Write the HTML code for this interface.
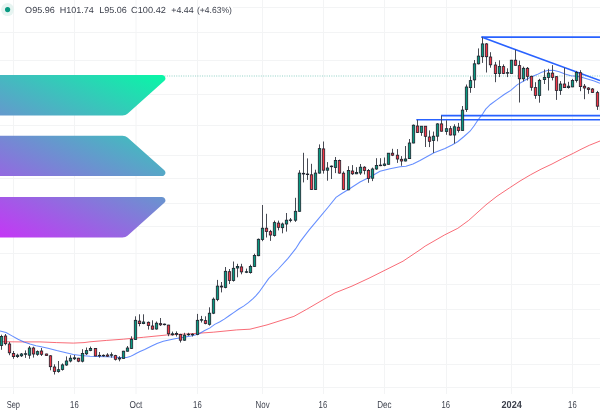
<!DOCTYPE html>
<html><head><meta charset="utf-8"><style>
html,body{margin:0;padding:0;background:#fff;}
body{width:600px;height:414px;overflow:hidden;position:relative;}
</style></head><body>
<svg width="600" height="414" viewBox="0 0 600 414" style="position:absolute;left:0;top:0"><defs>
<linearGradient id="sg" x1="360.88" y1="-37.46" x2="141.21" y2="383.29" gradientUnits="userSpaceOnUse">
<stop offset="0" stop-color="#00FFA3"/><stop offset="1" stop-color="#DC1FFF"/>
</linearGradient>
</defs><g stroke="#f3f4f5" stroke-width="1"><line x1="233" y1="7.5" x2="600" y2="7.5"/><line x1="0" y1="32.5" x2="600" y2="32.5"/><line x1="0" y1="60.5" x2="600" y2="60.5"/><line x1="0" y1="94.5" x2="600" y2="94.5"/><line x1="0" y1="125.5" x2="600" y2="125.5"/><line x1="0" y1="155.5" x2="600" y2="155.5"/><line x1="0" y1="178.5" x2="600" y2="178.5"/><line x1="0" y1="203.5" x2="600" y2="203.5"/><line x1="0" y1="226.5" x2="600" y2="226.5"/><line x1="0" y1="253.5" x2="600" y2="253.5"/><line x1="0" y1="284.5" x2="600" y2="284.5"/><line x1="0" y1="309.5" x2="600" y2="309.5"/><line x1="0" y1="338.5" x2="600" y2="338.5"/><line x1="0" y1="364.5" x2="600" y2="364.5"/><line x1="0" y1="387.5" x2="600" y2="387.5"/><line x1="13.5" y1="0" x2="13.5" y2="394"/><line x1="74.5" y1="0" x2="74.5" y2="394"/><line x1="136" y1="0" x2="136" y2="394"/><line x1="197.5" y1="0" x2="197.5" y2="394"/><line x1="262.5" y1="0" x2="262.5" y2="394"/><line x1="323.5" y1="0" x2="323.5" y2="394"/><line x1="384.5" y1="0" x2="384.5" y2="394"/><line x1="446.5" y1="0" x2="446.5" y2="394"/><line x1="511.5" y1="0" x2="511.5" y2="394"/><line x1="572.5" y1="0" x2="572.5" y2="394"/></g><line x1="0" y1="76" x2="600" y2="76" stroke="#089981" stroke-opacity="0.45" stroke-width="1" stroke-dasharray="1 1.35"/><g transform="translate(-66.4 75.0) scale(0.583 0.5215)" fill="url(#sg)"><path d="M64.6 237.9c2.4-2.4 5.7-3.8 9.2-3.8h317.4c5.8 0 8.7 7 4.6 11.1l-62.7 62.7c-2.4 2.4-5.7 3.8-9.2 3.8H6.5c-5.8 0-8.7-7-4.6-11.1l62.7-62.7z"/><path d="M64.6 3.8C67.1 1.4 70.4 0 73.8 0h317.4c5.8 0 8.7 7 4.6 11.1l-62.7 62.7c-2.4 2.4-5.7 3.8-9.2 3.8H6.5c-5.8 0-8.7-7-4.6-11.1L64.6 3.8z"/><path d="M333.1 120.1c-2.4-2.4-5.7-3.8-9.2-3.8H6.5c-5.8 0-8.7 7-4.6 11.1l62.7 62.7c2.4 2.4 5.7 3.8 9.2 3.8h317.4c5.8 0 8.7-7 4.6-11.1l-62.7-62.7z"/></g><polyline points="0.0,341.7 20.0,341.9 40.0,341.9 56.7,342.6 73.3,343.1 84.0,342.6 90.0,341.8 106.7,340.4 123.3,339.2 143.3,337.3 166.7,335.0 190.0,333.8 213.3,332.2 236.7,329.9 250.0,329.2 267.0,324.9 293.9,316.4 306.7,309.3 323.7,299.4 335.0,292.9 352.0,286.1 369.0,278.2 386.0,269.7 403.0,261.2 420.0,249.8 425.2,246.1 444.8,234.8 457.8,228.3 468.7,220.4 486.0,204.8 497.0,196.2 509.3,188.0 520.0,181.0 530.7,174.7 541.0,169.2 552.0,164.0 562.5,158.5 573.3,153.3 581.0,149.3 589.3,145.3 600.0,141.0" fill="none" stroke="#f7525f" stroke-opacity="0.85" stroke-width="1"/><polyline points="0.0,331.0 6.0,332.5 12.0,335.9 18.0,339.3 24.0,341.9 30.0,344.1 36.0,345.8 40.0,346.4 48.0,348.3 56.7,350.6 65.0,352.5 73.3,354.5 81.0,355.6 90.0,356.2 98.0,356.5 106.7,356.7 113.0,357.0 120.0,357.4 126.7,357.4 130.0,356.6 133.3,355.0 136.5,353.3 140.0,351.5 144.7,349.5 151.7,346.0 157.0,343.5 163.3,341.3 169.0,339.9 175.0,338.8 180.7,337.7 186.7,336.7 191.0,335.9 196.0,334.8 200.0,333.2 204.2,330.8 210.0,327.9 214.7,324.4 219.5,322.0 224.3,319.1 229.1,315.8 234.0,312.4 238.8,309.0 243.6,306.1 248.4,302.7 253.3,298.4 256.0,295.6 259.0,292.2 268.6,278.6 278.3,269.0 288.0,258.4 295.7,248.7 300.0,241.9 309.0,230.2 318.6,218.6 328.3,207.0 336.0,197.4 341.8,193.5 349.6,188.7 360.0,182.0 370.0,177.0 380.0,171.2 390.0,168.8 400.0,166.8 406.0,166.3 413.0,164.0 420.0,160.5 434.0,152.7 445.0,148.5 452.0,145.0 458.0,141.5 464.0,136.5 470.0,131.2 474.0,126.0 477.8,120.2 482.6,114.0 485.7,109.2 490.4,104.5 496.7,99.8 504.5,94.3 510.8,90.4 517.1,84.9 525.0,80.2 530.0,77.5 537.0,74.6 541.7,72.3 547.5,70.5 553.3,70.3 559.2,71.7 565.0,74.0 570.8,75.8 576.7,76.3 582.5,77.5 588.3,79.3 594.2,81.0 600.0,83.3" fill="none" stroke="#2962ff" stroke-opacity="0.72" stroke-width="1.05"/><g stroke="#2962ff" stroke-width="1.6" fill="none"><line x1="481.5" y1="37.1" x2="600" y2="37.1"/><line x1="481.5" y1="37.1" x2="600" y2="80.6"/><line x1="441" y1="115.6" x2="600" y2="115.6"/><line x1="416.3" y1="119.7" x2="600" y2="119.7"/></g><g stroke="#474a53" stroke-width="1"><line x1="1.50" y1="334.7" x2="1.50" y2="349.8"/><line x1="5.50" y1="334.0" x2="5.50" y2="345.3"/><line x1="9.50" y1="341.9" x2="9.50" y2="355.2"/><line x1="13.50" y1="351.0" x2="13.50" y2="358.8"/><line x1="17.50" y1="353.7" x2="17.50" y2="357.9"/><line x1="21.50" y1="353.0" x2="21.50" y2="357.0"/><line x1="25.50" y1="350.4" x2="25.50" y2="357.9"/><line x1="29.50" y1="346.0" x2="29.50" y2="358.8"/><line x1="33.50" y1="346.7" x2="33.50" y2="357.6"/><line x1="37.50" y1="350.4" x2="37.50" y2="355.8"/><line x1="41.50" y1="348.0" x2="41.50" y2="356.0"/><line x1="46.50" y1="353.7" x2="46.50" y2="355.8"/><line x1="50.50" y1="355.2" x2="50.50" y2="370.3"/><line x1="54.50" y1="364.3" x2="54.50" y2="374.5"/><line x1="58.50" y1="361.0" x2="58.50" y2="372.7"/><line x1="62.50" y1="363.4" x2="62.50" y2="370.6"/><line x1="66.50" y1="356.4" x2="66.50" y2="365.8"/><line x1="70.50" y1="355.2" x2="70.50" y2="362.4"/><line x1="74.50" y1="355.0" x2="74.50" y2="360.0"/><line x1="78.50" y1="357.8" x2="78.50" y2="362.2"/><line x1="82.50" y1="349.2" x2="82.50" y2="362.4"/><line x1="86.50" y1="347.5" x2="86.50" y2="355.0"/><line x1="90.50" y1="346.6" x2="90.50" y2="351.2"/><line x1="95.50" y1="348.0" x2="95.50" y2="356.2"/><line x1="99.50" y1="352.0" x2="99.50" y2="357.7"/><line x1="103.50" y1="354.4" x2="103.50" y2="356.8"/><line x1="107.50" y1="353.2" x2="107.50" y2="356.8"/><line x1="111.50" y1="352.4" x2="111.50" y2="357.7"/><line x1="115.50" y1="354.8" x2="115.50" y2="360.5"/><line x1="119.50" y1="356.2" x2="119.50" y2="361.3"/><line x1="123.50" y1="350.8" x2="123.50" y2="358.6"/><line x1="127.50" y1="346.0" x2="127.50" y2="351.6"/><line x1="131.50" y1="336.3" x2="131.50" y2="349.0"/><line x1="135.50" y1="316.3" x2="135.50" y2="339.9"/><line x1="139.50" y1="314.3" x2="139.50" y2="326.3"/><line x1="143.50" y1="314.3" x2="143.50" y2="324.2"/><line x1="148.50" y1="321.5" x2="148.50" y2="329.6"/><line x1="152.50" y1="320.3" x2="152.50" y2="329.6"/><line x1="156.50" y1="321.5" x2="156.50" y2="329.6"/><line x1="160.50" y1="318.0" x2="160.50" y2="326.0"/><line x1="164.50" y1="323.6" x2="164.50" y2="325.4"/><line x1="168.50" y1="324.8" x2="168.50" y2="336.2"/><line x1="172.50" y1="331.6" x2="172.50" y2="335.6"/><line x1="176.50" y1="331.4" x2="176.50" y2="336.5"/><line x1="180.50" y1="333.8" x2="180.50" y2="342.5"/><line x1="184.50" y1="332.8" x2="184.50" y2="340.8"/><line x1="188.50" y1="332.8" x2="188.50" y2="335.8"/><line x1="192.50" y1="333.2" x2="192.50" y2="336.5"/><line x1="197.50" y1="313.9" x2="197.50" y2="335.2"/><line x1="201.50" y1="315.9" x2="201.50" y2="322.5"/><line x1="205.50" y1="316.3" x2="205.50" y2="324.3"/><line x1="209.50" y1="307.3" x2="209.50" y2="325.6"/><line x1="213.50" y1="297.5" x2="213.50" y2="314.1"/><line x1="217.50" y1="279.9" x2="217.50" y2="301.2"/><line x1="221.50" y1="282.0" x2="221.50" y2="292.4"/><line x1="225.50" y1="267.0" x2="225.50" y2="288.3"/><line x1="229.50" y1="269.0" x2="229.50" y2="284.0"/><line x1="233.50" y1="261.5" x2="233.50" y2="281.6"/><line x1="237.50" y1="263.8" x2="237.50" y2="277.3"/><line x1="241.50" y1="263.8" x2="241.50" y2="274.3"/><line x1="246.50" y1="268.6" x2="246.50" y2="273.1"/><line x1="250.50" y1="264.7" x2="250.50" y2="273.6"/><line x1="254.50" y1="253.7" x2="254.50" y2="266.9"/><line x1="258.50" y1="238.5" x2="258.50" y2="256.2"/><line x1="262.50" y1="205.0" x2="262.50" y2="241.2"/><line x1="266.50" y1="213.8" x2="266.50" y2="237.5"/><line x1="270.50" y1="229.9" x2="270.50" y2="240.9"/><line x1="274.50" y1="220.6" x2="274.50" y2="236.6"/><line x1="278.50" y1="220.6" x2="278.50" y2="230.4"/><line x1="282.50" y1="222.6" x2="282.50" y2="233.3"/><line x1="286.50" y1="213.0" x2="286.50" y2="231.6"/><line x1="290.50" y1="218.0" x2="290.50" y2="222.3"/><line x1="295.50" y1="197.8" x2="295.50" y2="221.9"/><line x1="299.50" y1="170.2" x2="299.50" y2="211.8"/><line x1="303.50" y1="152.8" x2="303.50" y2="182.4"/><line x1="307.50" y1="158.4" x2="307.50" y2="179.9"/><line x1="311.50" y1="163.8" x2="311.50" y2="189.8"/><line x1="315.50" y1="169.7" x2="315.50" y2="190.0"/><line x1="319.50" y1="144.4" x2="319.50" y2="173.6"/><line x1="323.50" y1="141.5" x2="323.50" y2="173.6"/><line x1="327.50" y1="162.1" x2="327.50" y2="180.7"/><line x1="331.50" y1="165.5" x2="331.50" y2="179.0"/><line x1="335.50" y1="157.0" x2="335.50" y2="173.1"/><line x1="339.50" y1="159.6" x2="339.50" y2="173.6"/><line x1="343.50" y1="171.4" x2="343.50" y2="190.0"/><line x1="348.50" y1="166.2" x2="348.50" y2="190.2"/><line x1="352.50" y1="165.1" x2="352.50" y2="174.9"/><line x1="356.50" y1="167.2" x2="356.50" y2="174.1"/><line x1="360.50" y1="164.0" x2="360.50" y2="174.9"/><line x1="364.50" y1="166.2" x2="364.50" y2="174.4"/><line x1="368.50" y1="169.0" x2="368.50" y2="182.8"/><line x1="372.50" y1="167.6" x2="372.50" y2="181.1"/><line x1="376.50" y1="158.2" x2="376.50" y2="169.8"/><line x1="380.50" y1="158.2" x2="380.50" y2="166.2"/><line x1="384.50" y1="157.5" x2="384.50" y2="166.2"/><line x1="388.50" y1="153.1" x2="388.50" y2="164.6"/><line x1="392.50" y1="148.8" x2="392.50" y2="156.1"/><line x1="397.50" y1="149.1" x2="397.50" y2="162.9"/><line x1="401.50" y1="156.1" x2="401.50" y2="165.8"/><line x1="405.50" y1="146.0" x2="405.50" y2="161.4"/><line x1="409.50" y1="139.0" x2="409.50" y2="158.8"/><line x1="413.50" y1="124.5" x2="413.50" y2="143.3"/><line x1="417.50" y1="119.9" x2="417.50" y2="132.9"/><line x1="421.50" y1="126.0" x2="421.50" y2="135.8"/><line x1="425.50" y1="126.0" x2="425.50" y2="147.0"/><line x1="429.50" y1="130.4" x2="429.50" y2="147.1"/><line x1="433.50" y1="131.6" x2="433.50" y2="152.9"/><line x1="437.50" y1="123.2" x2="437.50" y2="141.3"/><line x1="441.50" y1="115.7" x2="441.50" y2="131.6"/><line x1="446.50" y1="120.3" x2="446.50" y2="134.8"/><line x1="450.50" y1="126.0" x2="450.50" y2="135.5"/><line x1="454.50" y1="124.3" x2="454.50" y2="143.5"/><line x1="458.50" y1="122.9" x2="458.50" y2="132.6"/><line x1="462.50" y1="106.0" x2="462.50" y2="130.6"/><line x1="466.50" y1="84.5" x2="466.50" y2="111.9"/><line x1="470.50" y1="76.4" x2="470.50" y2="92.8"/><line x1="474.50" y1="60.0" x2="474.50" y2="88.0"/><line x1="478.50" y1="48.4" x2="478.50" y2="64.4"/><line x1="482.50" y1="37.3" x2="482.50" y2="62.9"/><line x1="486.50" y1="43.1" x2="486.50" y2="72.5"/><line x1="490.50" y1="52.2" x2="490.50" y2="67.7"/><line x1="495.50" y1="61.9" x2="495.50" y2="82.2"/><line x1="499.50" y1="60.3" x2="499.50" y2="77.1"/><line x1="503.50" y1="64.4" x2="503.50" y2="74.1"/><line x1="507.50" y1="68.3" x2="507.50" y2="77.1"/><line x1="511.50" y1="59.9" x2="511.50" y2="73.6"/><line x1="515.50" y1="49.7" x2="515.50" y2="65.6"/><line x1="519.50" y1="60.6" x2="519.50" y2="102.5"/><line x1="523.50" y1="66.6" x2="523.50" y2="81.4"/><line x1="527.50" y1="67.0" x2="527.50" y2="80.5"/><line x1="531.50" y1="75.8" x2="531.50" y2="90.7"/><line x1="535.50" y1="82.2" x2="535.50" y2="98.8"/><line x1="539.50" y1="78.8" x2="539.50" y2="102.7"/><line x1="544.50" y1="69.5" x2="544.50" y2="84.0"/><line x1="548.50" y1="68.8" x2="548.50" y2="90.5"/><line x1="552.50" y1="65.1" x2="552.50" y2="80.4"/><line x1="556.50" y1="76.0" x2="556.50" y2="99.9"/><line x1="560.50" y1="81.1" x2="560.50" y2="94.9"/><line x1="564.50" y1="67.8" x2="564.50" y2="88.0"/><line x1="568.50" y1="81.8" x2="568.50" y2="88.6"/><line x1="572.50" y1="78.9" x2="572.50" y2="87.2"/><line x1="576.50" y1="70.9" x2="576.50" y2="82.5"/><line x1="580.50" y1="70.2" x2="580.50" y2="91.2"/><line x1="584.50" y1="84.0" x2="584.50" y2="99.2"/><line x1="588.50" y1="87.2" x2="588.50" y2="93.8"/><line x1="592.50" y1="88.0" x2="592.50" y2="92.7"/><line x1="597.50" y1="90.9" x2="597.50" y2="109.9"/><line x1="601.50" y1="105.0" x2="601.50" y2="112.0"/></g><g stroke="#1e222d" stroke-width="0.8"><rect x="0.30" y="336.5" width="2.4" height="9.00" fill="#089981"/><rect x="4.30" y="336.0" width="2.4" height="7.70" fill="#f23645"/><rect x="8.30" y="344.0" width="2.4" height="8.80" fill="#f23645"/><rect x="12.30" y="353.4" width="2.4" height="3.20" fill="#f23645"/><rect x="16.30" y="355.2" width="2.4" height="1.40" fill="#089981"/><rect x="20.30" y="354.0" width="2.4" height="1.80" fill="#089981"/><rect x="24.30" y="353.7" width="2.4" height="0.60" fill="#089981"/><rect x="28.30" y="348.0" width="2.4" height="7.20" fill="#089981"/><rect x="32.30" y="348.0" width="2.4" height="6.00" fill="#f23645"/><rect x="36.30" y="351.6" width="2.4" height="2.70" fill="#089981"/><rect x="40.30" y="351.0" width="2.4" height="3.30" fill="#f23645"/><rect x="45.30" y="354.0" width="2.4" height="1.40" fill="#f23645"/><rect x="49.30" y="355.8" width="2.4" height="10.90" fill="#f23645"/><rect x="53.30" y="367.0" width="2.4" height="4.50" fill="#f23645"/><rect x="57.30" y="369.7" width="2.4" height="1.80" fill="#089981"/><rect x="61.30" y="364.9" width="2.4" height="4.50" fill="#089981"/><rect x="65.30" y="361.0" width="2.4" height="4.00" fill="#089981"/><rect x="69.30" y="358.2" width="2.4" height="2.80" fill="#089981"/><rect x="73.30" y="357.8" width="2.4" height="1.00" fill="#089981"/><rect x="77.30" y="358.2" width="2.4" height="3.00" fill="#f23645"/><rect x="81.30" y="353.4" width="2.4" height="7.80" fill="#089981"/><rect x="85.30" y="350.6" width="2.4" height="3.20" fill="#089981"/><rect x="89.30" y="348.4" width="2.4" height="2.00" fill="#089981"/><rect x="94.30" y="348.4" width="2.4" height="7.60" fill="#f23645"/><rect x="98.30" y="355.3" width="2.4" height="0.60" fill="#089981"/><rect x="102.30" y="355.3" width="2.4" height="0.60" fill="#089981"/><rect x="106.30" y="355.0" width="2.4" height="1.20" fill="#f23645"/><rect x="110.30" y="354.7" width="2.4" height="0.60" fill="#089981"/><rect x="114.30" y="355.6" width="2.4" height="3.70" fill="#f23645"/><rect x="118.30" y="358.0" width="2.4" height="1.00" fill="#089981"/><rect x="122.30" y="351.2" width="2.4" height="7.20" fill="#089981"/><rect x="126.30" y="348.0" width="2.4" height="3.20" fill="#089981"/><rect x="130.30" y="339.3" width="2.4" height="9.10" fill="#089981"/><rect x="134.30" y="320.3" width="2.4" height="19.30" fill="#089981"/><rect x="138.30" y="321.1" width="2.4" height="2.50" fill="#f23645"/><rect x="142.30" y="322.0" width="2.4" height="1.60" fill="#089981"/><rect x="147.30" y="322.3" width="2.4" height="3.30" fill="#f23645"/><rect x="151.30" y="326.0" width="2.4" height="3.20" fill="#f23645"/><rect x="155.30" y="323.2" width="2.4" height="5.80" fill="#089981"/><rect x="159.30" y="323.6" width="2.4" height="1.20" fill="#f23645"/><rect x="163.30" y="324.1" width="2.4" height="0.60" fill="#089981"/><rect x="167.30" y="325.1" width="2.4" height="8.70" fill="#f23645"/><rect x="171.30" y="333.8" width="2.4" height="1.00" fill="#089981"/><rect x="175.30" y="333.4" width="2.4" height="0.90" fill="#089981"/><rect x="179.30" y="334.5" width="2.4" height="5.70" fill="#f23645"/><rect x="183.30" y="335.2" width="2.4" height="5.00" fill="#089981"/><rect x="187.30" y="334.2" width="2.4" height="0.60" fill="#089981"/><rect x="191.30" y="334.2" width="2.4" height="0.60" fill="#089981"/><rect x="196.30" y="320.3" width="2.4" height="14.20" fill="#089981"/><rect x="200.30" y="319.6" width="2.4" height="0.60" fill="#089981"/><rect x="204.30" y="320.6" width="2.4" height="2.90" fill="#f23645"/><rect x="208.30" y="313.2" width="2.4" height="11.10" fill="#089981"/><rect x="212.30" y="299.2" width="2.4" height="14.00" fill="#089981"/><rect x="216.30" y="286.1" width="2.4" height="13.30" fill="#089981"/><rect x="220.30" y="286.1" width="2.4" height="0.90" fill="#f23645"/><rect x="224.30" y="271.3" width="2.4" height="16.10" fill="#089981"/><rect x="228.30" y="271.7" width="2.4" height="8.70" fill="#f23645"/><rect x="232.30" y="268.3" width="2.4" height="12.10" fill="#089981"/><rect x="236.30" y="266.4" width="2.4" height="1.60" fill="#089981"/><rect x="240.30" y="266.9" width="2.4" height="5.00" fill="#f23645"/><rect x="245.30" y="271.7" width="2.4" height="0.60" fill="#089981"/><rect x="249.30" y="266.4" width="2.4" height="6.20" fill="#089981"/><rect x="253.30" y="255.4" width="2.4" height="11.00" fill="#089981"/><rect x="257.30" y="239.3" width="2.4" height="16.40" fill="#089981"/><rect x="261.30" y="228.2" width="2.4" height="11.30" fill="#089981"/><rect x="265.30" y="228.2" width="2.4" height="3.40" fill="#f23645"/><rect x="269.30" y="231.6" width="2.4" height="3.40" fill="#f23645"/><rect x="273.30" y="222.6" width="2.4" height="12.90" fill="#089981"/><rect x="277.30" y="223.1" width="2.4" height="4.20" fill="#f23645"/><rect x="281.30" y="224.0" width="2.4" height="3.70" fill="#089981"/><rect x="285.30" y="220.2" width="2.4" height="3.80" fill="#089981"/><rect x="289.30" y="219.9" width="2.4" height="0.60" fill="#089981"/><rect x="294.30" y="211.3" width="2.4" height="8.90" fill="#089981"/><rect x="298.30" y="173.1" width="2.4" height="38.20" fill="#089981"/><rect x="302.30" y="173.3" width="2.4" height="0.70" fill="#f23645"/><rect x="306.30" y="174.0" width="2.4" height="0.60" fill="#089981"/><rect x="310.30" y="174.8" width="2.4" height="14.70" fill="#f23645"/><rect x="314.30" y="173.1" width="2.4" height="16.40" fill="#089981"/><rect x="318.30" y="148.6" width="2.4" height="24.50" fill="#089981"/><rect x="322.30" y="148.9" width="2.4" height="21.30" fill="#f23645"/><rect x="326.30" y="168.0" width="2.4" height="2.20" fill="#089981"/><rect x="330.30" y="166.1" width="2.4" height="0.60" fill="#089981"/><rect x="334.30" y="160.4" width="2.4" height="7.10" fill="#089981"/><rect x="338.30" y="160.4" width="2.4" height="12.70" fill="#f23645"/><rect x="342.30" y="173.2" width="2.4" height="16.10" fill="#f23645"/><rect x="347.30" y="170.5" width="2.4" height="19.30" fill="#089981"/><rect x="351.30" y="171.0" width="2.4" height="2.80" fill="#f23645"/><rect x="355.30" y="172.4" width="2.4" height="1.40" fill="#089981"/><rect x="359.30" y="167.2" width="2.4" height="5.80" fill="#089981"/><rect x="363.30" y="167.2" width="2.4" height="3.30" fill="#f23645"/><rect x="367.30" y="170.5" width="2.4" height="8.00" fill="#f23645"/><rect x="371.30" y="169.0" width="2.4" height="9.20" fill="#089981"/><rect x="375.30" y="165.4" width="2.4" height="3.60" fill="#089981"/><rect x="379.30" y="165.1" width="2.4" height="0.60" fill="#089981"/><rect x="383.30" y="164.0" width="2.4" height="1.40" fill="#089981"/><rect x="387.30" y="153.2" width="2.4" height="11.10" fill="#089981"/><rect x="391.30" y="153.2" width="2.4" height="2.00" fill="#f23645"/><rect x="396.30" y="155.2" width="2.4" height="3.80" fill="#f23645"/><rect x="400.30" y="159.3" width="2.4" height="1.70" fill="#f23645"/><rect x="404.30" y="159.0" width="2.4" height="2.00" fill="#089981"/><rect x="408.30" y="143.0" width="2.4" height="15.60" fill="#089981"/><rect x="412.30" y="125.2" width="2.4" height="17.80" fill="#089981"/><rect x="416.30" y="126.0" width="2.4" height="6.50" fill="#f23645"/><rect x="420.30" y="126.2" width="2.4" height="6.30" fill="#089981"/><rect x="424.30" y="126.2" width="2.4" height="10.10" fill="#f23645"/><rect x="428.30" y="137.0" width="2.4" height="4.30" fill="#f23645"/><rect x="432.30" y="136.2" width="2.4" height="4.40" fill="#089981"/><rect x="436.30" y="123.9" width="2.4" height="12.30" fill="#089981"/><rect x="440.30" y="123.9" width="2.4" height="7.30" fill="#f23645"/><rect x="445.30" y="128.7" width="2.4" height="2.90" fill="#089981"/><rect x="449.30" y="128.7" width="2.4" height="6.30" fill="#f23645"/><rect x="453.30" y="126.8" width="2.4" height="8.20" fill="#089981"/><rect x="457.30" y="127.2" width="2.4" height="3.20" fill="#f23645"/><rect x="461.30" y="110.1" width="2.4" height="20.30" fill="#089981"/><rect x="465.30" y="87.0" width="2.4" height="22.50" fill="#089981"/><rect x="469.30" y="80.6" width="2.4" height="7.00" fill="#089981"/><rect x="473.30" y="63.8" width="2.4" height="16.10" fill="#089981"/><rect x="477.30" y="56.1" width="2.4" height="7.70" fill="#089981"/><rect x="481.30" y="43.9" width="2.4" height="12.80" fill="#089981"/><rect x="485.30" y="43.9" width="2.4" height="12.80" fill="#f23645"/><rect x="489.30" y="57.0" width="2.4" height="7.80" fill="#f23645"/><rect x="494.30" y="65.0" width="2.4" height="8.60" fill="#f23645"/><rect x="498.30" y="66.5" width="2.4" height="6.90" fill="#089981"/><rect x="502.30" y="66.6" width="2.4" height="6.80" fill="#f23645"/><rect x="506.30" y="72.6" width="2.4" height="0.60" fill="#089981"/><rect x="510.30" y="60.2" width="2.4" height="13.20" fill="#089981"/><rect x="514.30" y="60.2" width="2.4" height="5.10" fill="#f23645"/><rect x="518.30" y="65.6" width="2.4" height="13.20" fill="#f23645"/><rect x="522.30" y="68.3" width="2.4" height="10.50" fill="#089981"/><rect x="526.30" y="68.3" width="2.4" height="8.00" fill="#f23645"/><rect x="530.30" y="76.3" width="2.4" height="11.00" fill="#f23645"/><rect x="534.30" y="87.6" width="2.4" height="7.80" fill="#f23645"/><rect x="538.30" y="80.3" width="2.4" height="15.10" fill="#089981"/><rect x="543.30" y="77.5" width="2.4" height="2.10" fill="#089981"/><rect x="547.30" y="73.1" width="2.4" height="4.40" fill="#089981"/><rect x="551.30" y="73.1" width="2.4" height="4.40" fill="#f23645"/><rect x="555.30" y="76.7" width="2.4" height="13.80" fill="#f23645"/><rect x="559.30" y="84.0" width="2.4" height="6.50" fill="#089981"/><rect x="563.30" y="84.0" width="2.4" height="3.60" fill="#f23645"/><rect x="567.30" y="86.2" width="2.4" height="1.40" fill="#089981"/><rect x="571.30" y="80.4" width="2.4" height="6.50" fill="#089981"/><rect x="575.30" y="72.4" width="2.4" height="8.00" fill="#089981"/><rect x="579.30" y="72.7" width="2.4" height="13.90" fill="#f23645"/><rect x="583.30" y="86.2" width="2.4" height="1.80" fill="#f23645"/><rect x="587.30" y="88.0" width="2.4" height="1.50" fill="#f23645"/><rect x="591.30" y="89.0" width="2.4" height="3.40" fill="#f23645"/><rect x="596.30" y="92.6" width="2.4" height="13.60" fill="#f23645"/><rect x="600.30" y="106.0" width="2.4" height="4.00" fill="#f23645"/></g></svg><svg width="600" height="414" viewBox="0 0 600 414" style="position:absolute;left:0;top:0;will-change:transform"><circle cx="7.6" cy="9.6" r="6.5" fill="#e6f4f1"/><circle cx="7.6" cy="9.6" r="2.6" fill="#089981"/><text x="25.10" y="13.1" font-family="Liberation Sans, sans-serif" text-rendering="geometricPrecision" font-size="8.8" fill="#3b3f4b" textLength="29.80" lengthAdjust="spacingAndGlyphs">O95.96</text><text x="59.70" y="13.1" font-family="Liberation Sans, sans-serif" text-rendering="geometricPrecision" font-size="8.8" fill="#3b3f4b" textLength="34.10" lengthAdjust="spacingAndGlyphs">H101.74</text><text x="99.20" y="13.1" font-family="Liberation Sans, sans-serif" text-rendering="geometricPrecision" font-size="8.8" fill="#3b3f4b" textLength="27.60" lengthAdjust="spacingAndGlyphs">L95.06</text><text x="131.10" y="13.1" font-family="Liberation Sans, sans-serif" text-rendering="geometricPrecision" font-size="8.8" fill="#3b3f4b" textLength="34.80" lengthAdjust="spacingAndGlyphs">C100.42</text><text x="171.20" y="13.1" font-family="Liberation Sans, sans-serif" text-rendering="geometricPrecision" font-size="8.8" fill="#3b3f4b" textLength="22.50" lengthAdjust="spacingAndGlyphs">+4.44</text><text x="197.00" y="13.1" font-family="Liberation Sans, sans-serif" text-rendering="geometricPrecision" font-size="8.8" fill="#3b3f4b" textLength="34.90" lengthAdjust="spacingAndGlyphs">(+4.63%)</text><text x="6.65" y="407.85" font-family="Liberation Sans, sans-serif" text-rendering="geometricPrecision" font-size="10.1" fill="#3b3f4b" textLength="13.30" lengthAdjust="spacingAndGlyphs">Sep</text><text x="70.12" y="407.85" font-family="Liberation Sans, sans-serif" text-rendering="geometricPrecision" font-size="10.1" fill="#3b3f4b" textLength="8.55" lengthAdjust="spacingAndGlyphs">16</text><text x="129.50" y="407.85" font-family="Liberation Sans, sans-serif" text-rendering="geometricPrecision" font-size="10.1" fill="#3b3f4b" textLength="12.80" lengthAdjust="spacingAndGlyphs">Oct</text><text x="193.12" y="407.85" font-family="Liberation Sans, sans-serif" text-rendering="geometricPrecision" font-size="10.1" fill="#3b3f4b" textLength="8.55" lengthAdjust="spacingAndGlyphs">16</text><text x="255.57" y="407.85" font-family="Liberation Sans, sans-serif" text-rendering="geometricPrecision" font-size="10.1" fill="#3b3f4b" textLength="14.05" lengthAdjust="spacingAndGlyphs">Nov</text><text x="318.62" y="407.85" font-family="Liberation Sans, sans-serif" text-rendering="geometricPrecision" font-size="10.1" fill="#3b3f4b" textLength="8.55" lengthAdjust="spacingAndGlyphs">16</text><text x="377.25" y="407.85" font-family="Liberation Sans, sans-serif" text-rendering="geometricPrecision" font-size="10.1" fill="#3b3f4b" textLength="14.30" lengthAdjust="spacingAndGlyphs">Dec</text><text x="441.53" y="407.85" font-family="Liberation Sans, sans-serif" text-rendering="geometricPrecision" font-size="10.1" fill="#3b3f4b" textLength="8.55" lengthAdjust="spacingAndGlyphs">16</text><text x="501.55" y="407.85" font-family="Liberation Sans, sans-serif" text-rendering="geometricPrecision" font-size="10.1" fill="#3b3f4b" font-weight="bold" textLength="20.30" lengthAdjust="spacingAndGlyphs">2024</text><text x="568.12" y="407.85" font-family="Liberation Sans, sans-serif" text-rendering="geometricPrecision" font-size="10.1" fill="#3b3f4b" textLength="8.55" lengthAdjust="spacingAndGlyphs">16</text></svg>
</body></html>
